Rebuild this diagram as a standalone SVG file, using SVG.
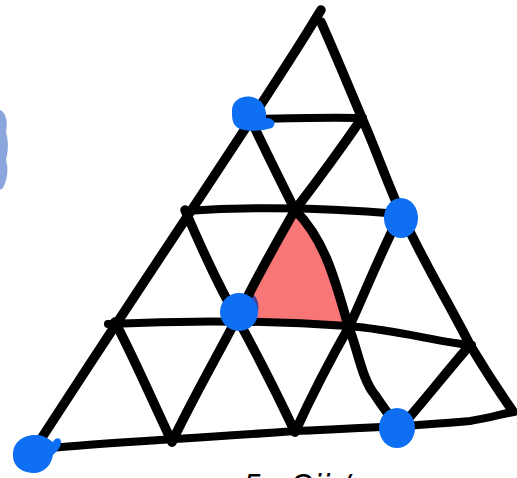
<svg xmlns="http://www.w3.org/2000/svg" width="517" height="478" viewBox="0 0 517 478">
<style>
.ln{fill:none;stroke:#000;stroke-width:9.5;stroke-linecap:round;stroke-linejoin:round}
.hz{fill:none;stroke:#000;stroke-width:8;stroke-linecap:round;stroke-linejoin:round}
.dot{fill:#0f6ff2}
.txt{font-family:"DejaVu Sans","Liberation Sans",sans-serif;font-style:italic;font-size:30px;fill:#000}
</style>
<rect width="517" height="478" fill="#fff"/>
<g id="side-blob"><path d="M0,110 C6,112 8,122 6,132 C9,142 8,152 6,160 C9,170 7,180 3,188 L0,190 Z" fill="#8aa6dc"/></g>
<g id="pink-face"><path d="M295,212 C325,240 335,280 348,325 C310,322 275,320 237,318 C255,280 275,245 295,212 Z" fill="#f87676"/><path d="M251,292 C259,298 261,310 255,318 L246,315 Z" fill="#4b3f90"/></g>
<g id="connectors">
<path class="ln" d="M321,10 L316,18 C270,95 150,270 32,453"/>
<path class="ln" d="M321,22 C338,60 350,90 362,118 C378,155 390,190 402,215 C425,265 450,305 470,345 C485,370 498,390 512,410"/>
<path class="hz" d="M250,119 C290,118 330,117 363,118"/>
<path class="hz" d="M185,211 C260,206 330,208 400,214"/>
<path class="hz" d="M108,324 C190,320 260,320 348,326 C400,330 440,343 472,345"/>
<path class="hz" d="M40,449 C100,443 170,440 295,431 C360,428 420,426 470,421 C490,418 505,413 514,412"/>
<path class="ln" d="M250,118 C265,150 280,180 295,210 C325,240 335,280 348,325 C358,350 362,380 375,395 C385,410 392,420 400,428"/>
<path class="ln" d="M185,210 C200,245 218,285 237,318 C260,360 280,400 295,432"/>
<path class="ln" d="M115,322 C135,360 152,400 172,442"/>
<path class="ln" d="M362,118 C340,150 318,180 295,210 C275,245 255,280 237,318 C215,360 192,400 172,442"/>
<path class="ln" d="M400,215 C382,250 366,290 350,325 C330,360 312,395 295,432"/>
<path class="ln" d="M470,345 C448,370 425,400 400,428"/>
</g>
<g id="node-1"><path class="dot" d="M232,113 C231,100 242,95 252,97 C262,99 267,108 266,118 C272,118 278,122 272,128 C262,131 248,132 240,129 C233,126 232,120 232,113 Z"/></g>
<g id="node-2"><ellipse class="dot" cx="401" cy="218" rx="17" ry="20"/></g>
<g id="node-3"><ellipse class="dot" cx="239" cy="312" rx="19" ry="19"/></g>
<g id="node-4"><path class="dot" d="M13,456 C12,441 25,434 38,435 C46,436 50,440 53,442 C55,437 61,437 61,442 C61,448 56,452 53,455 C51,467 42,474 32,473 C20,472 13,465 13,456 Z"/></g>
<g id="node-5"><ellipse class="dot" cx="397" cy="428" rx="18" ry="20"/></g>
<g id="caption"><text class="txt" x="243" y="496">5a  Oii  /</text></g>
</svg>
